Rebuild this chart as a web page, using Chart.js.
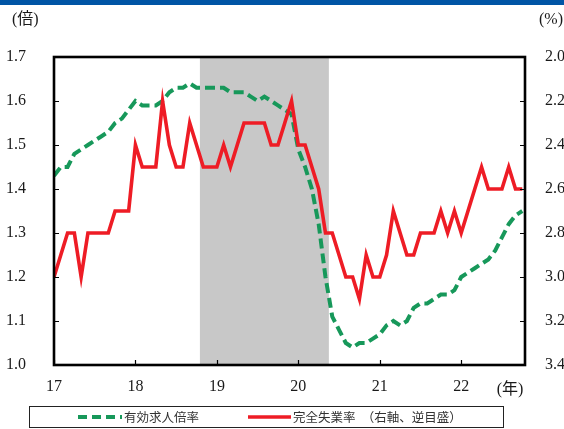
<!DOCTYPE html>
<html lang="ja">
<head>
<meta charset="utf-8">
<script src="https://cdn.jsdelivr.net/npm/chart.js@4/dist/chart.umd.min.js"></script>
<style>
  html, body { margin: 0; padding: 0; background: #fff; }
  #wrap { position: relative; width: 564px; height: 429px; }
</style>
</head>
<body>
<div id="wrap"><canvas id="c" width="564" height="429"></canvas></div>
<script>
// Year tick labels (one tick every 12 months, starting Jan 2017)
const yearLabels = ['17', '18', '19', '20', '21', '22'];
// Left axis: jobs-to-applicants ratio (times)
const ratioTicks = [1.0, 1.1, 1.2, 1.3, 1.4, 1.5, 1.6, 1.7];
// Right axis: unemployment rate (%), inverted
const rateTicks = [2.0, 2.2, 2.4, 2.6, 2.8, 3.0, 3.2, 3.4];

// Monthly series, Jan 2017 - Oct 2022
const jobsRatio = [
  1.43, 1.45, 1.45, 1.48, 1.49, 1.50, 1.51, 1.52, 1.53, 1.55, 1.56, 1.58,
  1.60, 1.59, 1.59, 1.59, 1.60, 1.62, 1.63, 1.63, 1.64, 1.63, 1.63, 1.63,
  1.63, 1.63, 1.62, 1.62, 1.62, 1.61, 1.60, 1.61, 1.60, 1.59, 1.58, 1.57,
  1.49, 1.45, 1.40, 1.32, 1.20, 1.11, 1.08, 1.05, 1.04, 1.05, 1.05, 1.06,
  1.07, 1.09, 1.10, 1.09, 1.10, 1.13, 1.14, 1.14, 1.15, 1.16, 1.16, 1.17,
  1.20, 1.21, 1.22, 1.23, 1.24, 1.26, 1.29, 1.32, 1.34, 1.35
];
const unemploymentRate = [
  3.0, 2.9, 2.8, 2.8, 3.0, 2.8, 2.8, 2.8, 2.8, 2.7, 2.7, 2.7,
  2.4, 2.5, 2.5, 2.5, 2.2, 2.4, 2.5, 2.5, 2.3, 2.4, 2.5, 2.5,
  2.5, 2.4, 2.5, 2.4, 2.3, 2.3, 2.3, 2.3, 2.4, 2.4, 2.3, 2.2,
  2.4, 2.4, 2.5, 2.6, 2.8, 2.8, 2.9, 3.0, 3.0, 3.1, 2.9, 3.0,
  3.0, 2.9, 2.7, 2.8, 2.9, 2.9, 2.8, 2.8, 2.8, 2.7, 2.8, 2.7,
  2.8, 2.7, 2.6, 2.5, 2.6, 2.6, 2.6, 2.5, 2.6, 2.6
];

// Recession phase (months from Jan 2017), shaded in grey
const recessionMonths = [21.5, 40.5];

const seriesNames = ['有効求人倍率', '完全失業率　（右軸、逆目盛）'];
const seriesColors = ['#17985a', '#ee1c25'];

const serif = '"Liberation Serif", "Noto Sans CJK JP", serif';
const gothic = '"Noto Sans CJK JP", sans-serif';
const inkColor = '#1a1a1a';

const toPoints = arr => arr.map((v, i) => ({ x: i, y: v }));

const decorations = {
  id: 'decorations',
  beforeDraw(chart) {
    const ctx = chart.ctx;
    ctx.save();
    ctx.fillStyle = '#ffffff';
    ctx.fillRect(0, 0, chart.width, chart.height);
    // header band
    ctx.fillStyle = '#0055a5';
    ctx.fillRect(0, 0, chart.width, 5);
    ctx.restore();
  },
  beforeDatasetsDraw(chart) {
    const { ctx, chartArea: a, scales } = chart;
    const x1 = scales.x.getPixelForValue(recessionMonths[0]);
    const x2 = scales.x.getPixelForValue(recessionMonths[1]);
    ctx.save();
    ctx.fillStyle = '#c8c8c8';
    ctx.fillRect(x1, a.top, x2 - x1, a.bottom - a.top);
    ctx.restore();
  },
  afterDatasetsDraw(chart) {
    const { ctx, chartArea: a, scales } = chart;
    ctx.save();
    // inward tick marks
    ctx.strokeStyle = '#000';
    ctx.lineWidth = 1.2;
    ctx.beginPath();
    scales.yL.ticks.forEach(t => {
      const y = Math.round(scales.yL.getPixelForValue(t.value)) + 0.5;
      ctx.moveTo(a.left, y); ctx.lineTo(a.left + 5, y);
    });
    scales.yR.ticks.forEach(t => {
      const y = Math.round(scales.yR.getPixelForValue(t.value)) + 0.5;
      ctx.moveTo(a.right, y); ctx.lineTo(a.right - 5, y);
    });
    scales.x.ticks.forEach(t => {
      const x = Math.round(scales.x.getPixelForValue(t.value)) + 0.5;
      ctx.moveTo(x, a.bottom); ctx.lineTo(x, a.bottom - 5);
    });
    ctx.stroke();
    // plot frame
    ctx.lineWidth = 2.6;
    ctx.strokeRect(a.left, a.top, a.right - a.left, a.bottom - a.top);
    ctx.restore();
  },
  afterDraw(chart) {
    const { ctx } = chart;
    ctx.save();
    ctx.fillStyle = inkColor;
    ctx.textBaseline = 'middle';
    ctx.font = '16px ' + serif;
    ctx.textAlign = 'left';
    ctx.fillText('(倍)', 12, 20);
    ctx.textAlign = 'right';
    ctx.fillText('(%)', 563, 20);
    ctx.textAlign = 'center';
    ctx.fillText('(年)', 510, 390);

    // legend
    const top = 406.5, h = 21, midY = top + h / 2;
    ctx.strokeStyle = '#222';
    ctx.lineWidth = 1;
    ctx.strokeRect(29.5, top, 474, h);

    ctx.lineCap = 'butt';
    ctx.strokeStyle = seriesColors[0];
    ctx.lineWidth = 4;
    ctx.setLineDash([9, 5]);
    ctx.beginPath(); ctx.moveTo(78, midY); ctx.lineTo(122, midY); ctx.stroke();
    ctx.setLineDash([]);
    ctx.strokeStyle = seriesColors[1];
    ctx.lineWidth = 3.5;
    ctx.beginPath(); ctx.moveTo(248, midY); ctx.lineTo(291, midY); ctx.stroke();

    ctx.font = '12.5px ' + gothic;
    ctx.fillStyle = '#333';
    ctx.textAlign = 'left';
    ctx.fillText(seriesNames[0], 124, midY + 0.5);
    ctx.fillText(seriesNames[1], 293, midY + 0.5);
    ctx.restore();
  }
};

Chart.defaults.font.family = serif;

new Chart(document.getElementById('c'), {
  type: 'line',
  data: {
    datasets: [
      {
        label: seriesNames[0],
        data: toPoints(jobsRatio),
        yAxisID: 'yL',
        borderColor: seriesColors[0],
        borderWidth: 4,
        borderDash: [10, 5],
        borderCapStyle: 'butt',
        pointRadius: 0,
        tension: 0,
        fill: false,
        order: 1
      },
      {
        label: seriesNames[1],
        data: toPoints(unemploymentRate),
        yAxisID: 'yR',
        borderColor: seriesColors[1],
        borderWidth: 3.6,
        pointRadius: 0,
        tension: 0,
        fill: false,
        order: 0
      }
    ]
  },
  options: {
    responsive: false,
    animation: false,
    layout: { padding: { top: 57, left: 0, right: 0, bottom: 0 } },
    plugins: { legend: { display: false }, tooltip: { enabled: false } },
    scales: {
      x: {
        type: 'linear',
        min: 0,
        max: 69.4,
        afterBuildTicks: s => { s.ticks = yearLabels.map((_, k) => ({ value: k * 12 })); },
        ticks: {
          callback: (v, i) => yearLabels[i],
          padding: 4,
          color: inkColor,
          font: { size: 16 },
          maxRotation: 0,
          autoSkip: false
        },
        grid: { display: false },
        border: { display: false },
        afterFit: s => { s.height = 64; }
      },
      yL: {
        type: 'linear',
        position: 'left',
        min: 1.0,
        max: 1.7,
        afterBuildTicks: s => { s.ticks = ratioTicks.map(v => ({ value: v })); },
        ticks: {
          callback: v => v.toFixed(1),
          padding: 20,
          color: inkColor,
          font: { size: 16 },
          autoSkip: false
        },
        grid: { display: false },
        border: { display: false },
        afterFit: s => { s.width = 54; }
      },
      yR: {
        type: 'linear',
        position: 'right',
        reverse: true,
        min: 2.0,
        max: 3.4,
        afterBuildTicks: s => { s.ticks = rateTicks.map(v => ({ value: v })); },
        ticks: {
          callback: v => v.toFixed(1),
          padding: 12,
          color: inkColor,
          font: { size: 16 },
          autoSkip: false
        },
        grid: { display: false },
        border: { display: false },
        afterFit: s => { s.width = 39; }
      }
    }
  },
  plugins: [decorations]
});
</script>
</body>
</html>
